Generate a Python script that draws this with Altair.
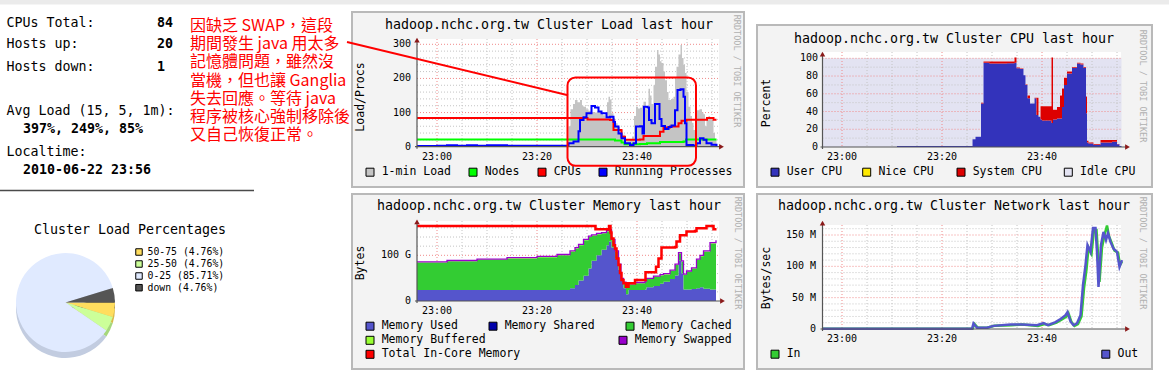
import math
import altair as alt
import pandas as pd

# ============================ data ============================
summary_labels = ["CPUs Total:", "Hosts up:", "Hosts down:"]
summary_values = [84, 20, 1]
avg_load_label = "Avg Load (15, 5, 1m):"
avg_load_pct = [397, 249, 85]
localtime_label = "Localtime:"
localtime_value = "2010-06-22 23:56"

annotation_lines = [
    "因缺乏 SWAP，這段",
    "期間發生 java 用太多",
    "記憶體問題，雖然沒",
    "當機，但也讓 Ganglia",
    "失去回應。等待 java",
    "程序被核心強制移除後",
    "又自己恢復正常。",
]
# annotation box and pointer, in load-graph units (minutes after 23:00, load)
ann_box_t = [26.1, 51.8]
ann_box_v = [203, -56]
ann_ptr_t = [-18, 26.2]
ann_ptr_v = [307, 151]

pie_title = "Cluster Load Percentages"
pie_labels = ["50-75", "25-50", "0-25", "down"]
pie_pct = [4.76, 4.76, 85.71, 4.76]

# time axis: minutes after 23:00, graphs cover 22:56 .. 23:56
time_domain = [-4, 56]
time_major = [0, 20, 40]
time_labels = ["23:00", "23:20", "23:40"]
time_minor = [5, 10, 15, 25, 30, 35, 45, 50, 55]

# ---- Cluster Load ----
load_title = "hadoop.nchc.org.tw Cluster Load last hour"
load_ticks = [0, 100, 200, 300]
load_tick_labels = ["0", "100", "200", "300"]
load_major = [100, 200, 300]
load_minor = [20, 40, 60, 80, 120, 140, 160, 180, 220, 240, 260, 280]
load_legend = ["1-min Load", "Nodes", "CPUs", "Running Processes"]

load1_t = [-4, 26.0, 26.3, 26.7, 27.2, 27.6, 28.1, 28.6, 29.0, 29.3, 29.8, 30.3, 30.9, 31.5, 32.0,
           32.6, 33.2, 33.7, 34.0, 34.3, 34.6, 34.9, 35.3, 35.6, 36.1, 36.6, 37.1, 37.6, 38.1, 38.6,
           39.0, 39.4, 39.8, 40.2, 40.6, 41.0, 41.3, 41.8, 42.3, 42.6, 42.9, 43.3, 43.6, 44.0, 44.3,
           44.6, 44.9, 45.3, 45.6, 46.0, 46.3, 46.8, 47.3, 47.6, 47.9, 48.3, 48.7, 49.0, 49.3, 49.6,
           49.9, 50.3, 50.7, 51.0, 51.3, 51.7, 52.0, 52.5, 53.0, 53.3, 53.6, 53.9, 54.3, 54.6, 54.9,
           55.3, 55.6, 55.9]
load1_v = [0, 0, 60, 110, 125, 137, 130, 137, 120, 117, 110, 105, 102, 100, 104,
           98, 92, 85, 130, 146, 138, 98, 85, 69, 58, 49, 35, 22, 18, 20,
           30, 90, 117, 112, 114, 120, 132, 110, 170, 150, 125, 180, 234, 283, 270,
           250, 245, 220, 195, 160, 137, 140, 146, 200, 234, 270, 298, 260, 240, 216,
           160, 117, 90, 70, 49, 90, 107, 110, 100, 95, 60, 78, 90, 82, 78,
           40, 20, 0]
nodes_t = [-4, 34.6, 35.6, 36.9, 37.5, 40.6, 42.0, 44.6, 49.3, 49.8, 55.9]
nodes_v = [21, 21, 18, 12, 7, 8, 10, 14, 15, 21, 21]
cpus_t = [-4, 30.0, 30.1, 34.6, 35.3, 36.9, 37.6, 39.0, 40.6, 41.3, 43.9, 44.6, 45.3, 46.6,
          48.3, 48.9, 49.9, 53.9, 54.0, 54.9, 55.3, 55.9]
cpus_v = [84, 84, 80, 78, 49, 29, 20, 20, 21, 31, 31, 44, 56, 59,
          69, 76, 79, 79, 84, 84, 79, 79]
procs_t = [-4, 0, 2, 4, 6, 8, 10, 14, 18, 22, 25.9, 26.3, 27.3, 28.3, 28.6, 29.3, 29.9, 30.9,
           31.6, 32.3, 32.9, 33.9, 34.6, 35.3, 35.6, 36.3, 36.9, 37.6, 38.6, 39.3, 39.8, 40.6,
           41.1, 41.4, 42.1, 42.4, 42.9, 43.6, 44.3, 44.5, 44.9, 45.6, 46.3, 46.9, 47.6, 48.1,
           48.7, 49.3, 49.6, 49.9, 51.3, 51.9, 52.6, 53.3, 53.9, 54.9, 55.9]
procs_v = [2, 3, 4, 3, 4, 3, 4, 3, 3, 3, 2, 10, 15, 45, 78, 86, 98, 119,
           115, 103, 98, 86, 88, 73, 59, 39, 25, 10, 5, 10, 59, 60,
           39, 117, 115, 78, 69, 125, 125, 81, 61, 52, 58, 62, 107, 166,
           168, 146, 69, 5, 2, 10, 25, 20, 10, 6, 2]

# ---- Cluster CPU (percent) ----
cpu_title = "hadoop.nchc.org.tw Cluster CPU last hour"
cpu_ticks = [0, 20, 40, 60, 80, 100]
cpu_tick_labels = ["0", "20", "40", "60", "80", "100"]
cpu_major = [20, 40, 60, 80, 100]
cpu_minor = [10, 30, 50, 70, 90]
cpu_legend = ["User CPU", "Nice CPU", "System CPU", "Idle CPU"]
cpu_t = [-4, 11.0, 26.1, 26.7, 27.8, 28.3, 29.5, 31.0, 33.0, 34.5, 34.9, 35.6, 36.3, 36.7,
         37.1, 37.6, 38.5, 38.9, 39.3, 39.7, 40.0, 41.9, 42.2, 43.0, 43.6, 44.0, 44.4, 45.0,
         46.0, 47.0, 47.7, 48.3, 48.8, 49.0, 49.3, 50.3, 51.7, 53.0, 54.0, 55.0, 55.5, 55.9]
cpu_user = [0, 1, 8.6, 11.6, 49, 95, 94, 94, 94.5, 95, 88.7, 88, 81, 70,
            55, 49, 55, 36, 34, 31, 30, 27, 31, 32, 32, 45, 70, 83,
            89, 94, 93, 89, 38, 5, 4, 2.5, 5, 5, 6, 3, 1, 1]
cpu_system = [0, 0, 0, 0, 1, 1.5, 2.5, 2.5, 2, 6, 1, 0.5, 0, 0.5,
              3, 0, 0.5, 19.6, 0, 15, 16, 74, 11, 13, 26, 21, 8, 2,
              1, 1, 1, 1, 19, 2, 1, 1, 3, 3, 2, 0.5, 0, 0]

# ---- Cluster Memory (GB) ----
mem_title = "hadoop.nchc.org.tw Cluster Memory last hour"
mem_ticks = [0, 100]
mem_tick_labels = ["0\u00a0\u00a0", "100 G"]
mem_major = [100]
mem_minor = [20, 40, 60, 80, 120, 140, 160]
mem_legend = ["Memory Used", "Memory Shared", "Memory Cached", "Memory Buffered",
              "Memory Swapped", "Total In-Core Memory"]
mem_t = [-4, 2, 8, 14, 20, 24, 26.6, 27.6, 28.3, 29.3, 30.3, 30.9, 31.9, 32.9, 33.9, 34.4,
         34.9, 35.6, 36.3, 36.8, 37.3, 37.8, 38.3, 39.6, 41.6, 41.9, 43.3, 44.6, 45.3, 46.6,
         47.6, 48.3, 48.9, 49.3, 49.9, 50.9, 51.9, 52.6, 53.3, 54.6, 55.8]
mem_used = [24, 24, 24, 24, 24, 24, 28, 35, 45, 55, 71, 88, 100, 112, 122, 130,
            117, 93, 68, 46, 28, 15, 24, 24, 25, 30, 33, 38, 42, 48,
            56, 88, 60, 25, 25, 26, 28, 30, 27, 25, 22]
mem_cached = [60, 63, 66, 69, 72, 76, 80, 80, 77, 78, 69, 55, 46, 36, 30, 25,
              16, 15, 11, 2, 12, 20, 12, 15, 17, 18, 20, 18, 16, 18,
              23, 16, 26, 32, 39, 45, 62, 68, 81, 101, 109]
mem_buffered = [1.0, 1.0, 1.1, 1.1, 1.1, 1.2, 1.2, 1.2, 1.2, 1.2, 1.2, 1.2, 1.2, 1.2, 1.2, 1.2,
                1.1, 1.0, 0.9, 0.8, 0.8, 0.8, 0.8, 0.8, 0.9, 0.9, 0.9, 0.9, 1.0, 1.0,
                1.0, 1.0, 1.0, 0.9, 0.9, 1.0, 1.0, 1.0, 1.1, 1.1, 1.1]
mem_swapped = [0.6, 0.6, 0.6, 0.6, 0.6, 0.6, 0.6, 0.6, 0.6, 0.6, 0.6, 0.6, 0.6, 0.6, 0.6, 0.6,
               0.6, 0.6, 0.7, 0.7, 0.7, 0.7, 0.7, 0.7, 0.7, 0.7, 0.7, 0.7, 0.7, 0.7,
               0.7, 0.7, 0.7, 0.7, 0.7, 0.7, 0.7, 0.7, 0.7, 0.7, 0.7]
core_t = [-4, 31.6, 31.7, 34.2, 34.4, 34.7, 34.9, 35.3, 35.6, 35.9, 36.3, 36.6, 36.9, 37.3,
          37.8, 38.3, 39.6, 41.7, 43.8, 44.3, 44.9, 47.6, 47.9, 48.6, 49.9, 51.6, 51.9, 53.9,
          55.3, 55.9]
core_v = [164, 164, 157, 157, 164, 150, 137, 122, 115, 93, 79, 61, 46, 39,
          31, 39, 46, 63, 75, 93, 117, 118, 130, 144, 152, 153, 159, 164,
          157, 157]

# ---- Cluster Network (MB/s) ----
net_title = "hadoop.nchc.org.tw Cluster Network last hour"
net_ticks = [0, 50, 100, 150]
net_tick_labels = ["0\u00a0\u00a0", "50 M", "100 M", "150 M"]
net_major = [50, 100, 150]
net_minor = [10, 20, 30, 40, 60, 70, 80, 90, 110, 120, 130, 140, 160]
net_legend = ["In", "Out"]
net_in_t = [-4, 26.1, 26.5, 27.2, 29.0, 30.5, 33.9, 36.0, 39.2, 40.5, 41.4, 42.9, 43.9, 44.9,
            45.3, 45.9, 46.5, 47.2, 47.9, 48.4, 48.9, 49.3, 49.9, 50.4, 50.9, 51.2, 51.5, 52.0,
            52.5, 53.0, 53.4, 53.9, 54.5, 55.2, 55.6, 56.0]
net_in = [0.3, 0.3, 8, 2, 2, 5, 6, 7, 5, 8, 6, 10, 15, 20,
          25, 11, 5, 8, 20, 65, 95, 130, 120, 158, 158, 120, 75, 130,
          150, 165, 148, 138, 125, 122, 102, 108]
net_out_t = [-4, 26.0, 26.3, 27.0, 29.0, 30.3, 33.7, 36.0, 39.0, 40.3, 41.2, 42.7, 43.7, 44.7,
             45.1, 45.7, 46.3, 47.0, 47.7, 48.2, 48.7, 49.1, 49.7, 50.2, 50.7, 51.0, 51.3, 51.8,
             52.3, 52.8, 53.2, 53.7, 54.3, 55.0, 55.5, 56.0]
net_out = [0.3, 0.3, 9, 2, 2, 5, 7, 7, 6, 9.5, 6, 11, 16, 22,
           27, 12, 6, 9, 22, 70, 102, 134, 123, 161, 161, 123, 67, 134,
           155, 142, 153, 139, 128, 123, 99, 110]

# ============================ styles / layout ============================
MONO = "DejaVu Sans Mono"
CJK = "Noto Sans CJK TC"
GRID_MINOR = "#c4c4c4"
GRID_MAJOR = "#f08a8a"
AXIS = "#555555"
ARROW = "#8b1a1a"

C_LOAD1, C_NODES, C_CPUS, C_PROCS = "#c4c4c4", "#00ff00", "#ff0000", "#0000ff"
C_USER, C_NICE, C_SYS, C_IDLE = "#3333bb", "#ffea00", "#dd0000", "#e3e3f2"
C_MUSED, C_MSHARED, C_MCACHED, C_MBUF, C_MSWAP, C_MCORE = (
    "#5555cc", "#0000aa", "#33cc33", "#99ff33", "#9900cc", "#ff0000")
C_IN, C_OUT = "#33cc33", "#5555cc"
PIE_TOP = ["#ffdd5e", "#ccff99", "#e0eaff", "#555555"]
PIE_SIDE = ["#d8b94a", "#a6d77c", "#c2cce0", "#383838"]

P = {
    "load": dict(box=(352, 12, 744, 187), canvas=(417, 39, 719, 147), xr=[417, 717],
                 yd=[0, 300], yr=[146.7, 44.3], title_xy=(549, 24.5), ytitle="Load/Procs",
                 ytitle_xy=(361, 97), rrd_xy=(737, 71), ylab_x=411, xlab_y=156.8,
                 xtip=724, ytip=37.7,
                 legend=[(370, 172.2), (473, 172.2), (542, 172.2), (603, 172.2)]),
    "cpu": dict(box=(757, 25, 1152, 187), canvas=(822.5, 52, 1121, 147), xr=[822, 1122],
                yd=[0, 100], yr=[147, 58.3], title_xy=(954, 38.5), ytitle="Percent",
                ytitle_xy=(767, 103), rrd_xy=(1143, 86), ylab_x=818, xlab_y=157,
                xtip=1130, ytip=51.7,
                legend=[(775, 172.2), (866.7, 172.2), (961, 172.2), (1068.3, 172.2)]),
    "mem": dict(box=(352, 194, 744, 369), canvas=(417, 221, 719, 301), xr=[417, 717],
                yd=[0, 100], yr=[301, 255.3], title_xy=(549, 206), ytitle="Bytes",
                ytitle_xy=(361, 263), rrd_xy=(738, 253), ylab_x=411, xlab_y=310.5,
                xtip=725, ytip=219.3,
                legend=[(370, 326.2), (493, 326.2), (630, 326.2), (370, 340.3), (623, 340.3),
                        (370, 354.3)]),
    "net": dict(box=(757, 194, 1152, 369), canvas=(822.5, 225, 1121, 329), xr=[822, 1122],
                yd=[0, 150], yr=[329, 235], title_xy=(954, 206), ytitle="Bytes/sec",
                ytitle_xy=(767, 278), rrd_xy=(1143, 253), ylab_x=816, xlab_y=338.5,
                xtip=1130, ytip=220.7,
                legend=[(775, 354.2), (1105.8, 354.2)]),
}

ONE = pd.DataFrame({"k": [0]})


def frame(**cols):
    lens = {len(v) for v in cols.values()}
    assert len(lens) == 1, list(cols)
    return pd.DataFrame(cols)


def X(p, f="t"):
    return alt.X(f"{f}:Q", axis=None,
                 scale=alt.Scale(domain=time_domain, range=P[p]["xr"], nice=False, zero=False))


def Y(p, f="v"):
    return alt.Y(f"{f}:Q", axis=None,
                 scale=alt.Scale(domain=P[p]["yd"], range=P[p]["yr"], nice=False, zero=False))


def px_text(s, x, y, size, color="#000000", font=MONO, align="left", weight="normal",
            angle=None, baseline="middle"):
    props = dict(text=s, fontSize=size, color=color, font=font, align=align,
                 baseline=baseline, fontWeight=weight)
    if angle is not None:
        props["angle"] = angle
    return alt.Chart(ONE).mark_text(**props).encode(x=alt.value(x), y=alt.value(y))


def px_rect(x0, y0, x1, y1, **props):
    return alt.Chart(ONE).mark_rect(**props).encode(
        x=alt.value(x0), x2=alt.value(x1), y=alt.value(y0), y2=alt.value(y1))


def px_rule(x0, y0, x1, y1, **props):
    return alt.Chart(ONE).mark_rule(**props).encode(
        x=alt.value(x0), x2=alt.value(x1), y=alt.value(y0), y2=alt.value(y1))


def panel_back(p):
    s = P[p]
    bx0, by0, bx1, by1 = s["box"]
    cx0, cy0, cx1, cy1 = s["canvas"]
    return [px_rect(bx0, by0, bx1, by1, fill="#f3f3f3", stroke="#b9b9b9", strokeWidth=2),
            px_rect(cx0, cy0, cx1, cy1, fill="#ffffff")]


def panel_grid(p, minor_v, major_v):
    s = P[p]
    cx0, cy0, cx1, cy1 = s["canvas"]
    out = []
    for vals, col in ((time_minor, GRID_MINOR), (time_major, GRID_MAJOR)):
        out.append(alt.Chart(pd.DataFrame({"t": vals}))
                   .mark_rule(color=col, strokeDash=[1, 2], strokeWidth=1)
                   .encode(x=X(p), y=alt.value(cy0), y2=alt.value(s["yr"][0])))
    for vals, col in ((minor_v, GRID_MINOR), (major_v, GRID_MAJOR)):
        out.append(alt.Chart(pd.DataFrame({"v": vals}))
                   .mark_rule(color=col, strokeDash=[1, 2], strokeWidth=1)
                   .encode(y=Y(p), x=alt.value(cx0), x2=alt.value(cx1)))
    return out


def panel_front(p, title, ticks, tick_labels, legend_names, legend_colors):
    s = P[p]
    cx0 = s["canvas"][0]
    y0 = s["yr"][0]
    out = [
        px_rule(cx0 - 2, y0, s["xtip"] - 3, y0, color=AXIS, strokeWidth=1.2),
        px_rule(cx0, y0 + 2, cx0, s["ytip"] + 3, color=AXIS, strokeWidth=1.2),
        alt.Chart(ONE).mark_point(shape="triangle-right", filled=True, size=30, color=ARROW,
                                  opacity=1).encode(x=alt.value(s["xtip"] - 2.5), y=alt.value(y0)),
        alt.Chart(ONE).mark_point(shape="triangle-up", filled=True, size=30, color=ARROW,
                                  opacity=1).encode(x=alt.value(cx0), y=alt.value(s["ytip"] + 2.5)),
        alt.Chart(frame(v=ticks, lab=tick_labels))
        .mark_text(font=MONO, fontSize=10, align="right", baseline="middle", color="#000000")
        .encode(y=Y(p), x=alt.value(s["ylab_x"]), text="lab:N"),
        alt.Chart(frame(t=time_major, lab=time_labels))
        .mark_text(font=MONO, fontSize=10, align="center", baseline="middle", color="#000000")
        .encode(x=X(p), y=alt.value(s["xlab_y"]), text="lab:N"),
        px_text(title, s["title_xy"][0], s["title_xy"][1], 13.3, align="center"),
        px_text(s["ytitle"], s["ytitle_xy"][0], s["ytitle_xy"][1], 11.5, align="center", angle=270),
        px_text("RRDTOOL / TOBI OETIKER", s["rrd_xy"][0], s["rrd_xy"][1], 8.5, color="#b0b0b0",
                align="center", angle=90),
    ]
    for name, col, (lx, ly) in zip(legend_names, legend_colors, s["legend"]):
        out.append(alt.Chart(ONE).mark_square(size=64, fill=col, stroke="#000000", strokeWidth=1,
                                              opacity=1).encode(x=alt.value(lx), y=alt.value(ly)))
        out.append(px_text(name, lx + 11.7, ly, 11.5))
    return out


layers = []

# page background pieces
layers.append(px_rect(0, 0, 1169, 4.5, fill="#ebebeb"))

# ---------------------------------------------------------------- Load graph
layers += panel_back("load")
layers += panel_grid("load", load_minor, load_major)
d = frame(t=load1_t, v=load1_v)
layers.append(alt.Chart(d).mark_area(interpolate="step-after", color=C_LOAD1, opacity=1)
              .encode(x=X("load"), y=Y("load")))
for tt, vv, col in ((nodes_t, nodes_v, C_NODES), (cpus_t, cpus_v, C_CPUS), (procs_t, procs_v, C_PROCS)):
    layers.append(alt.Chart(frame(t=tt, v=vv))
                  .mark_line(interpolate="step-after", color=col, strokeWidth=2)
                  .encode(x=X("load"), y=Y("load")))
layers += panel_front("load", load_title, load_ticks, load_tick_labels, load_legend,
                      [C_LOAD1, C_NODES, C_CPUS, C_PROCS])

# ---------------------------------------------------------------- CPU graph
layers += panel_back("cpu")
cpu_df = frame(t=cpu_t, user=cpu_user, system=cpu_system)
cpu_df["zero"] = 0.0
cpu_df["tot"] = cpu_df["user"] + cpu_df["system"]
cpu_df["full"] = 100.0
layers.append(alt.Chart(cpu_df).mark_area(interpolate="step-after", color=C_IDLE, opacity=1)
              .encode(x=X("cpu"), y=Y("cpu", "tot"), y2=alt.Y2("full:Q")))
layers += panel_grid("cpu", cpu_minor, cpu_major)
layers.append(alt.Chart(cpu_df).mark_area(interpolate="step-after", color=C_USER, opacity=1)
              .encode(x=X("cpu"), y=Y("cpu", "zero"), y2=alt.Y2("user:Q")))
layers.append(alt.Chart(cpu_df).mark_area(interpolate="step-after", color=C_SYS, opacity=1)
              .encode(x=X("cpu"), y=Y("cpu", "user"), y2=alt.Y2("tot:Q")))
layers += panel_front("cpu", cpu_title, cpu_ticks, cpu_tick_labels, cpu_legend,
                      [C_USER, C_NICE, C_SYS, C_IDLE])

# ---------------------------------------------------------------- Memory graph
layers += panel_back("mem")
layers += panel_grid("mem", mem_minor, mem_major)
mem_df = frame(t=mem_t, used=mem_used, cached=mem_cached, buffered=mem_buffered, swapped=mem_swapped)
mem_df["zero"] = 0.0
mem_df["c_top"] = mem_df["used"] + mem_df["cached"]
mem_df["b_top"] = mem_df["c_top"] + mem_df["buffered"]
mem_df["s_top"] = mem_df["b_top"] + mem_df["swapped"]
for lo, hi, col in (("zero", "used", C_MUSED), ("used", "c_top", C_MCACHED), ("c_top", "b_top", C_MBUF)):
    layers.append(alt.Chart(mem_df).mark_area(interpolate="step-after", color=col, opacity=1)
                  .encode(x=X("mem"), y=Y("mem", lo), y2=alt.Y2(f"{hi}:Q")))
layers.append(alt.Chart(mem_df).mark_line(interpolate="step-after", color=C_MSWAP, strokeWidth=1.3)
              .encode(x=X("mem"), y=Y("mem", "s_top")))
layers.append(alt.Chart(frame(t=core_t, v=core_v))
              .mark_line(interpolate="step-after", color=C_MCORE, strokeWidth=2.5)
              .encode(x=X("mem"), y=Y("mem")))
layers += panel_front("mem", mem_title, mem_ticks, mem_tick_labels, mem_legend,
                      [C_MUSED, C_MSHARED, C_MCACHED, C_MBUF, C_MSWAP, C_MCORE])

# ---------------------------------------------------------------- Network graph
layers += panel_back("net")
layers += panel_grid("net", net_minor, net_major)
for tt, vv, col in ((net_in_t, net_in, C_IN), (net_out_t, net_out, C_OUT)):
    layers.append(alt.Chart(frame(t=tt, v=vv))
                  .mark_line(color=col, strokeWidth=2.5)
                  .encode(x=X("net"), y=Y("net")))
layers += panel_front("net", net_title, net_ticks, net_tick_labels, net_legend, [C_IN, C_OUT])

# ---------------------------------------------------------------- annotation
layers.append(alt.Chart(frame(t=ann_box_t[:1], t2=ann_box_t[1:], v=ann_box_v[:1], v2=ann_box_v[1:]))
              .mark_rect(fillOpacity=0, stroke="#ff0000", strokeWidth=2, cornerRadius=8)
              .encode(x=X("load"), x2=alt.X2("t2:Q"), y=Y("load"), y2=alt.Y2("v2:Q")))
layers.append(alt.Chart(frame(t=ann_ptr_t, v=ann_ptr_v))
              .mark_line(color="#ff0000", strokeWidth=2)
              .encode(x=X("load"), y=Y("load")))
ann_y = [26, 44.2, 62.3, 80.5, 98.7, 116.8, 135]
for line, yy in zip(annotation_lines, ann_y):
    layers.append(px_text(line, 190, yy, 16, color="#ff0000", font=CJK))

# ---------------------------------------------------------------- left summary
sum_y = [22.7, 44.3, 66.7]
for lab, val, yy in zip(summary_labels, summary_values, sum_y):
    layers.append(px_text(lab, 6.5, yy, 13.3))
    layers.append(px_text(str(val), 157, yy, 13.3, weight="bold"))
layers.append(px_text(avg_load_label, 6.5, 110.7, 13.3))
layers.append(px_text(", ".join(f"{v}%" for v in avg_load_pct), 23, 128.5, 13.3, weight="bold"))
layers.append(px_text(localtime_label, 6.5, 152, 13.3))
layers.append(px_text(localtime_value, 23, 170, 13.3, weight="bold"))
layers.append(px_rule(0, 190.5, 254, 190.5, color="#4a4a4a", strokeWidth=1.5))

# ---------------------------------------------------------------- pie
pie_df = frame(label=pie_labels, pct=pie_pct, idx=list(range(len(pie_labels))))
theta_scale = dict(range=[math.pi / 2, math.pi / 2 + 2 * math.pi])
for cy, cols in ((308.5, PIE_SIDE), (302.5, PIE_TOP)):
    layers.append(alt.Chart(pie_df).mark_arc(radius=49.5)
                  .encode(theta=alt.Theta("pct:Q", stack=True, scale=alt.Scale(**theta_scale)),
                          color=alt.Color("label:N", legend=None,
                                          scale=alt.Scale(domain=pie_labels, range=cols)),
                          order=alt.Order("idx:Q"),
                          x=alt.value(65.5), y=alt.value(cy)))
layers.append(px_text(pie_title, 130, 230.3, 13.3, align="center"))
pie_leg_y = [252, 264, 276, 287.7]
for lab, pct, col, yy in zip(pie_labels, pie_pct, PIE_TOP, pie_leg_y):
    layers.append(alt.Chart(ONE).mark_square(size=42, fill=col, stroke="#000000", strokeWidth=1,
                                             opacity=1).encode(x=alt.value(139), y=alt.value(yy)))
    layers.append(px_text(f"{lab} ({pct:.2f}%)", 147.5, yy, 9.8))

chart = (
    alt.layer(*layers)
    .resolve_scale(x="independent", y="independent", theta="independent", color="independent")
    .properties(width=1169, height=376, background="#ffffff", padding=0,
                autosize=alt.AutoSizeParams(type="none"))
    .configure_view(strokeWidth=0)
)

chart.save("out.html", embed_options={"renderer": "svg", "actions": False})
